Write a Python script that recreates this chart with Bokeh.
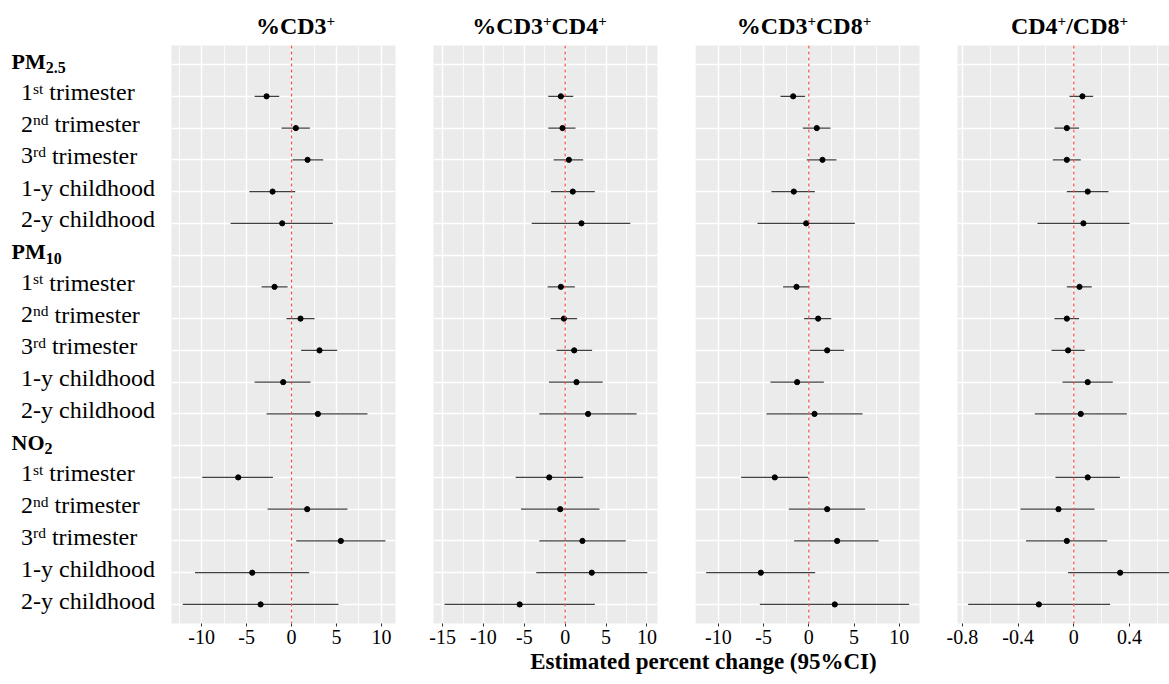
from bokeh.plotting import figure
from bokeh.models import ColumnDataSource, Range1d, FixedTicker, Span
from bokeh.layouts import row, column
from bokeh.embed import file_html
from bokeh.resources import INLINE
from bokeh.core.properties import value

SERIF = "Liberation Serif"

# ---------------- data ----------------
poll_main = ["PM", "PM", "NO"]
poll_sub = ["2.5", "10", "2"]
period_lead = ["1", "2", "3", "1-y childhood", "2-y childhood"]
period_sup = ["st", "nd", "rd", "", ""]
period_tail = ["trimester", "trimester", "trimester", "", ""]

# order: PM2.5 x5, PM10 x5, NO2 x5 (1st, 2nd, 3rd trimester, 1-y, 2-y childhood)
cd3_est = [-2.78, 0.48, 1.78, -2.11, -1.04, -1.89, 1.00, 3.11, -0.93, 2.93, -5.93, 1.74, 5.48, -4.37, -3.44]
cd3_lo = [-4.11, -1.11, 0.11, -4.70, -6.78, -3.33, -0.56, 1.07, -4.11, -2.78, -9.93, -2.67, 0.52, -10.74, -12.10]
cd3_hi = [-1.37, 2.04, 3.52, 0.41, 4.59, -0.44, 2.56, 5.07, 2.11, 8.44, -2.07, 6.22, 10.44, 1.96, 5.22]

cd4_est = [-0.53, -0.33, 0.45, 0.93, 1.99, -0.53, -0.16, 1.10, 1.38, 2.80, -1.95, -0.61, 2.11, 3.25, -5.57]
cd4_lo = [-2.07, -2.07, -1.42, -1.75, -4.10, -2.15, -1.79, -1.06, -1.99, -3.17, -6.06, -5.41, -3.17, -3.54, -14.76]
cd4_hi = [0.98, 1.26, 2.20, 3.62, 7.97, 1.18, 1.46, 3.29, 4.59, 8.74, 2.20, 4.19, 7.40, 10.04, 3.62]

cd8_est = [-1.73, 0.88, 1.51, -1.66, -0.29, -1.36, 1.03, 2.03, -1.29, 0.63, -3.76, 2.03, 3.13, -5.30, 2.87]
cd8_lo = [-3.13, -0.66, -0.22, -4.13, -5.67, -2.84, -0.52, 0.11, -4.24, -4.68, -7.48, -2.21, -1.62, -11.34, -5.41]
cd8_hi = [-0.41, 2.39, 3.06, 0.66, 5.08, 0.04, 2.47, 3.90, 1.66, 5.93, -0.07, 6.22, 7.70, 0.70, 11.09]

ratio_est = [0.062, -0.050, -0.050, 0.100, 0.069, 0.041, -0.050, -0.041, 0.100, 0.050, 0.100, -0.110, -0.050, 0.333, -0.251]
ratio_lo = [-0.031, -0.139, -0.151, -0.050, -0.261, -0.050, -0.139, -0.160, -0.081, -0.280, -0.132, -0.383, -0.343, -0.041, -0.759]
ratio_hi = [0.139, 0.038, 0.050, 0.249, 0.400, 0.129, 0.038, 0.079, 0.280, 0.381, 0.331, 0.149, 0.240, 0.750, 0.261]

ticks_pct = [-15, -10, -5, 0, 5, 10]
tick_labels_pct = ["-15", "-10", "-5", "0", "5", "10"]
minor_pct = [-17.5, -12.5, -7.5, -2.5, 2.5, 7.5, 12.5]
ticks_ratio = [-0.8, -0.4, 0, 0.4]
tick_labels_ratio = ["-0.8", "-0.4", "0", "0.4"]
minor_ratio = [-0.6, -0.2, 0.2, 0.6]

panel_titles = [
    [("%CD3", 24, 0), ("+", 15, 7.5)],
    [("%CD3", 24, 0), ("+", 15, 7.5), ("CD4", 24, 0), ("+", 15, 7.5)],
    [("%CD3", 24, 0), ("+", 15, 7.5), ("CD8", 24, 0), ("+", 15, 7.5)],
    [("CD4", 24, 0), ("+", 15, 7.5), ("/", 24, 0), ("CD8", 24, 0), ("+", 15, 7.5)],
]
x_title = "Estimated percent change (95%CI)"

# ---------------- geometry ----------------
YR = (0.4, 18.6)
FRAME_H = 578
PXU = FRAME_H / (YR[1] - YR[0])
TITLE_H = 45
BOTTOM = 22
XL_H = 33
PAGE_W = 1169
SHIFT = 0.33  # baseline correction (fraction of font size) for the svg text renderer

TR = {'1': .5, '2': .5, '3': .5, 's': .389, 't': .278, 'n': .5, 'd': .5, 'r': .333}
TB = {'%': 1.0, 'C': .722, 'D': .722, '3': .5, '4': .5, '8': .5, '+': .570, '/': .278,
      'P': .611, 'M': .944, 'N': .722, 'O': .778}


def tw(s, table, size):
    return sum(table[c] for c in s) * size


header_y = [18 - 6 * i for i in range(3)]
item_y = [h - 1 - j for h in header_y for j in range(5)]

# ---------------- title strip ----------------
tf = figure(frame_width=PAGE_W, frame_height=TITLE_H, x_range=Range1d(0, PAGE_W), y_range=Range1d(0, TITLE_H),
            min_border_left=0, min_border_right=0, min_border_top=0, min_border_bottom=0,
            toolbar_location=None, output_backend="svg")
tf.axis.visible = False
tf.grid.visible = False
tf.outline_line_color = None
title_centers = [295, 539, 803.5, 1069]
tx_big, ty_big, tt_big, tx_sm, ty_sm, tt_sm = [], [], [], [], [], []
for segs, c in zip(panel_titles, title_centers):
    total = sum(tw(t, TB, s) for t, s, r in segs)
    off = c - total / 2
    for t, s, r in segs:
        if r:
            tx_sm.append(off); ty_sm.append(11.7 + r + SHIFT * s); tt_sm.append(t)
        else:
            tx_big.append(off); ty_big.append(11.7 + SHIFT * s); tt_big.append(t)
        off += tw(t, TB, s)
tcommon = dict(text_font=value(SERIF), text_baseline="alphabetic", text_align="left",
               text_color="black", text_font_style="bold")
tf.text(x=tx_big, y=ty_big, text=tt_big, text_font_size="24px", **tcommon)
tf.text(x=tx_sm, y=ty_sm, text=tt_sm, text_font_size="15px", **tcommon)

# ---------------- label column ----------------
lab = figure(frame_width=171, frame_height=FRAME_H, x_range=Range1d(0, 171), y_range=Range1d(*YR),
             min_border_left=0, min_border_right=0, min_border_top=0, min_border_bottom=BOTTOM,
             toolbar_location=None, output_backend="svg")
lab.axis.visible = False
lab.grid.visible = False
lab.outline_line_color = None

hx, hyy, ht, sx, sy, st = [], [], [], [], [], []
mx, my, mt, px, py, pt = [], [], [], [], [], []
for i, (pm, ps) in enumerate(zip(poll_main, poll_sub)):
    hy = header_y[i]
    hx.append(11); hyy.append(hy + (-4 + SHIFT * 22) / PXU); ht.append(pm)
    sx.append(11 + tw(pm, TB, 22)); sy.append(hy + (-8.5 + SHIFT * 16) / PXU); st.append(ps)
    for j in range(5):
        y0 = hy - 1 - j
        if period_sup[j]:
            mx.append(20.5); my.append(y0 + (-4 + SHIFT * 24) / PXU); mt.append(period_lead[j])
            supx = 20.5 + tw(period_lead[j], TR, 24)
            px.append(supx); py.append(y0 + (3 + SHIFT * 15.5) / PXU); pt.append(period_sup[j])
            mx.append(supx + tw(period_sup[j], TR, 15.5) + 0.25 * 24)
            my.append(y0 + (-4 + SHIFT * 24) / PXU); mt.append(period_tail[j])
        else:
            mx.append(20.5); my.append(y0 + (-4 + SHIFT * 24) / PXU); mt.append(period_lead[j])

common = dict(text_font=value(SERIF), text_baseline="alphabetic", text_align="left", text_color="black")
lab.text(x=hx, y=hyy, text=ht, text_font_size="22px", text_font_style="bold", **common)
lab.text(x=sx, y=sy, text=st, text_font_size="16px", text_font_style="bold", **common)
lab.text(x=mx, y=my, text=mt, text_font_size="24px", **common)
lab.text(x=px, y=py, text=pt, text_font_size="15.5px", **common)


# ---------------- panels ----------------
def make_panel(est, lo, hi, xr, fw, bl, br, ticks, labels, minor):
    p = figure(frame_width=fw, frame_height=FRAME_H, x_range=Range1d(*xr), y_range=Range1d(*YR),
               min_border_left=bl, min_border_right=br, min_border_top=0, min_border_bottom=BOTTOM,
               toolbar_location=None, output_backend="svg")
    p.background_fill_color = "#EBEBEB"
    p.outline_line_color = None
    p.yaxis.visible = False
    tk = FixedTicker(ticks=ticks, minor_ticks=minor)
    p.xaxis.ticker = tk
    p.xgrid.ticker = tk
    p.ygrid.ticker = FixedTicker(ticks=list(range(1, 19)))
    p.xgrid.grid_line_color = "white"
    p.xgrid.grid_line_width = 1.4
    p.xgrid.minor_grid_line_color = "white"
    p.xgrid.minor_grid_line_width = 0.8
    p.ygrid.grid_line_color = "white"
    p.ygrid.grid_line_width = 1.4
    ax = p.xaxis[0]
    ax.axis_line_color = None
    ax.major_tick_line_color = "#333333"
    ax.major_tick_out = 3
    ax.major_tick_in = 0
    ax.minor_tick_line_color = None
    ax.major_label_standoff = 2
    ax.major_label_text_font = SERIF
    ax.major_label_text_font_size = "20px"
    ax.major_label_text_color = "black"
    ax.major_label_overrides = dict(zip(ticks, labels))
    p.add_layout(Span(location=0, dimension="height", line_color="#F4504A",
                      line_dash="3 3", line_width=1.2, level="overlay"))
    src = ColumnDataSource(dict(est=est, lo=lo, hi=hi, y=item_y))
    p.segment(x0="lo", y0="y", x1="hi", y1="y", source=src, line_color="#404040", line_width=1.3)
    p.scatter(x="est", y="y", source=src, size=5.2, color="black")
    return p


p1 = make_panel(cd3_est, cd3_lo, cd3_hi, (-13.35, 11.56), 224, 0, 19, ticks_pct, tick_labels_pct, minor_pct)
p2 = make_panel(cd4_est, cd4_lo, cd4_hi, (-16.11, 11.29), 224, 19, 19, ticks_pct, tick_labels_pct, minor_pct)
p3 = make_panel(cd8_est, cd8_lo, cd8_hi, (-12.52, 12.23), 224, 19, 19, ticks_pct, tick_labels_pct, minor_pct)
p4 = make_panel(ratio_est, ratio_lo, ratio_hi, (-0.8355, 0.6875), 212, 19, 0, ticks_ratio, tick_labels_ratio,
                minor_ratio)

# ---------------- x axis title ----------------
xl = figure(frame_width=PAGE_W, frame_height=XL_H, x_range=Range1d(0, PAGE_W), y_range=Range1d(0, XL_H),
            min_border_left=0, min_border_right=0, min_border_top=0, min_border_bottom=0,
            toolbar_location=None, output_backend="svg")
xl.axis.visible = False
xl.grid.visible = False
xl.outline_line_color = None
xl.text(x=[703], y=[XL_H - 22.5 + SHIFT * 23], text=[x_title], text_font=value(SERIF),
        text_font_size="23px", text_font_style="bold", text_align="center",
        text_baseline="alphabetic", text_color="black")

layout = column(tf, row(lab, p1, p2, p3, p4), xl)
open("out.html", "w").write(file_html(layout, INLINE))
